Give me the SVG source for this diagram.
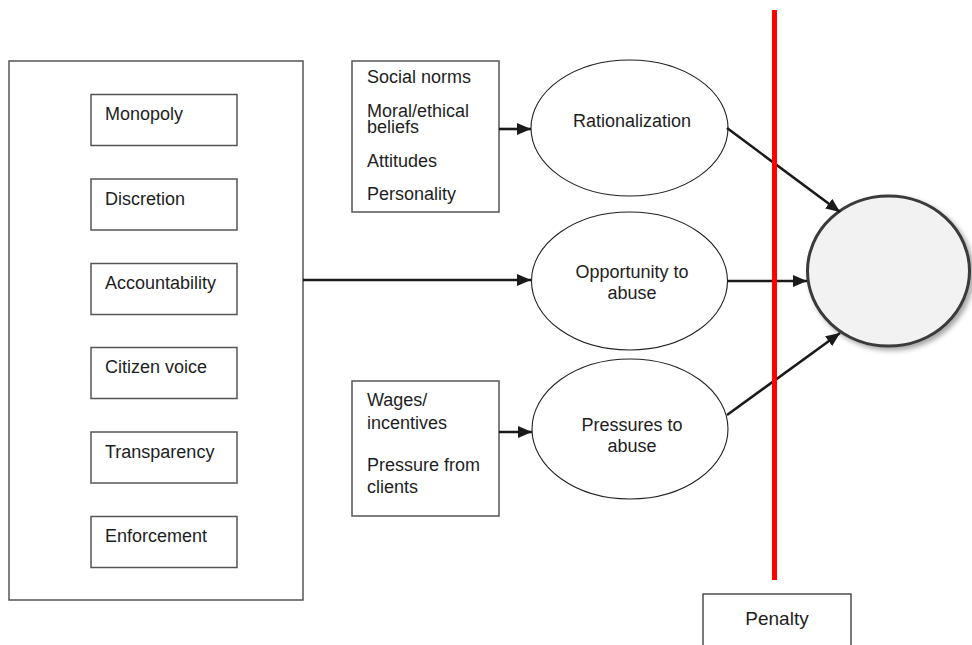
<svg xmlns="http://www.w3.org/2000/svg" width="972" height="645" viewBox="0 0 972 645">
<defs>
<style>
text{font-family:"Liberation Sans",Arial,sans-serif;font-size:18px;fill:#1e1e1e}
.box{fill:#fff;stroke:#555;stroke-width:1.5}
.ell{fill:#fff;stroke:#222;stroke-width:1.1}
.con{stroke:#1a1a1a;stroke-width:2.6;fill:none;marker-end:url(#ah)}
.mid{text-anchor:middle}
</style>
<marker id="ah" markerUnits="userSpaceOnUse" markerWidth="14" markerHeight="12" viewBox="0 0 14 12" refX="14" refY="6" orient="auto">
<path d="M0,0 L14,6 L0,12 Z" fill="#1a1a1a"/>
</marker>
<filter id="sh" x="-20%" y="-20%" width="150%" height="150%">
<feDropShadow dx="3" dy="3" stdDeviation="2.5" flood-color="#000" flood-opacity="0.35"/>
</filter>
</defs>
<rect width="972" height="645" fill="#fff"/>

<g id="factors">
<rect class="box" x="9" y="61" width="294" height="539"/>
<g id="monopoly"><rect class="box" x="91" y="94.5" width="146" height="51"/><text x="105" y="120">Monopoly</text></g>
<g id="discretion"><rect class="box" x="91" y="179" width="146" height="51"/><text x="105" y="204.5">Discretion</text></g>
<g id="accountability"><rect class="box" x="91" y="263.5" width="146" height="51"/><text x="105" y="289">Accountability</text></g>
<g id="citizen-voice"><rect class="box" x="91" y="347.5" width="146" height="51"/><text x="105" y="373">Citizen voice</text></g>
<g id="transparency"><rect class="box" x="91" y="432" width="146" height="51"/><text x="105" y="457.5">Transparency</text></g>
<g id="enforcement"><rect class="box" x="91" y="516.5" width="146" height="51"/><text x="105" y="542">Enforcement</text></g>
</g>

<g id="norms">
<rect class="box" x="352" y="61" width="147" height="151"/>
<text x="367" y="83">Social norms</text>
<text x="367" y="117">Moral/ethical</text>
<text x="367" y="133">beliefs</text>
<text x="367" y="167">Attitudes</text>
<text x="367" y="200">Personality</text>
</g>

<g id="wages">
<rect class="box" x="352" y="381" width="147" height="135"/>
<text x="367" y="406">Wages/</text>
<text x="367" y="429">incentives</text>
<text x="367" y="471">Pressure from</text>
<text x="367" y="493">clients</text>
</g>

<g id="rationalization">
<ellipse class="ell" cx="629.5" cy="128" rx="98.5" ry="68"/>
<text class="mid" x="632" y="127">Rationalization</text>
</g>

<g id="opportunity">
<ellipse class="ell" cx="629.5" cy="281" rx="98" ry="69"/>
<text class="mid" x="632" y="278">Opportunity to</text>
<text class="mid" x="632" y="299">abuse</text>
</g>

<g id="pressures">
<ellipse class="ell" cx="630" cy="429" rx="98" ry="70"/>
<text class="mid" x="632" y="431">Pressures to</text>
<text class="mid" x="632" y="452">abuse</text>
</g>

<g id="outcome">
<ellipse cx="888.5" cy="271" rx="81" ry="75" fill="#f2f2f2" stroke="#3a3a3a" stroke-width="3" filter="url(#sh)"/>
</g>

<g id="connectors">
<line class="con" x1="303" y1="280" x2="531" y2="280"/>
<line class="con" x1="499" y1="129" x2="531" y2="129"/>
<line class="con" x1="499" y1="432" x2="532" y2="432"/>
<line class="con" x1="727" y1="128" x2="840" y2="212"/>
<line class="con" x1="728" y1="281" x2="807" y2="281"/>
<line class="con" x1="727" y1="415" x2="840" y2="333"/>
</g>

<g id="penalty-line">
<line x1="774.5" y1="10" x2="774.5" y2="580" stroke="#ff0000" stroke-width="5"/>
</g>

<g id="penalty">
<rect x="703" y="594" width="148" height="60" fill="#fff" stroke="#222" stroke-width="1.2"/>
<text class="mid" x="777" y="625" style="font-size:19px">Penalty</text>
</g>
</svg>
